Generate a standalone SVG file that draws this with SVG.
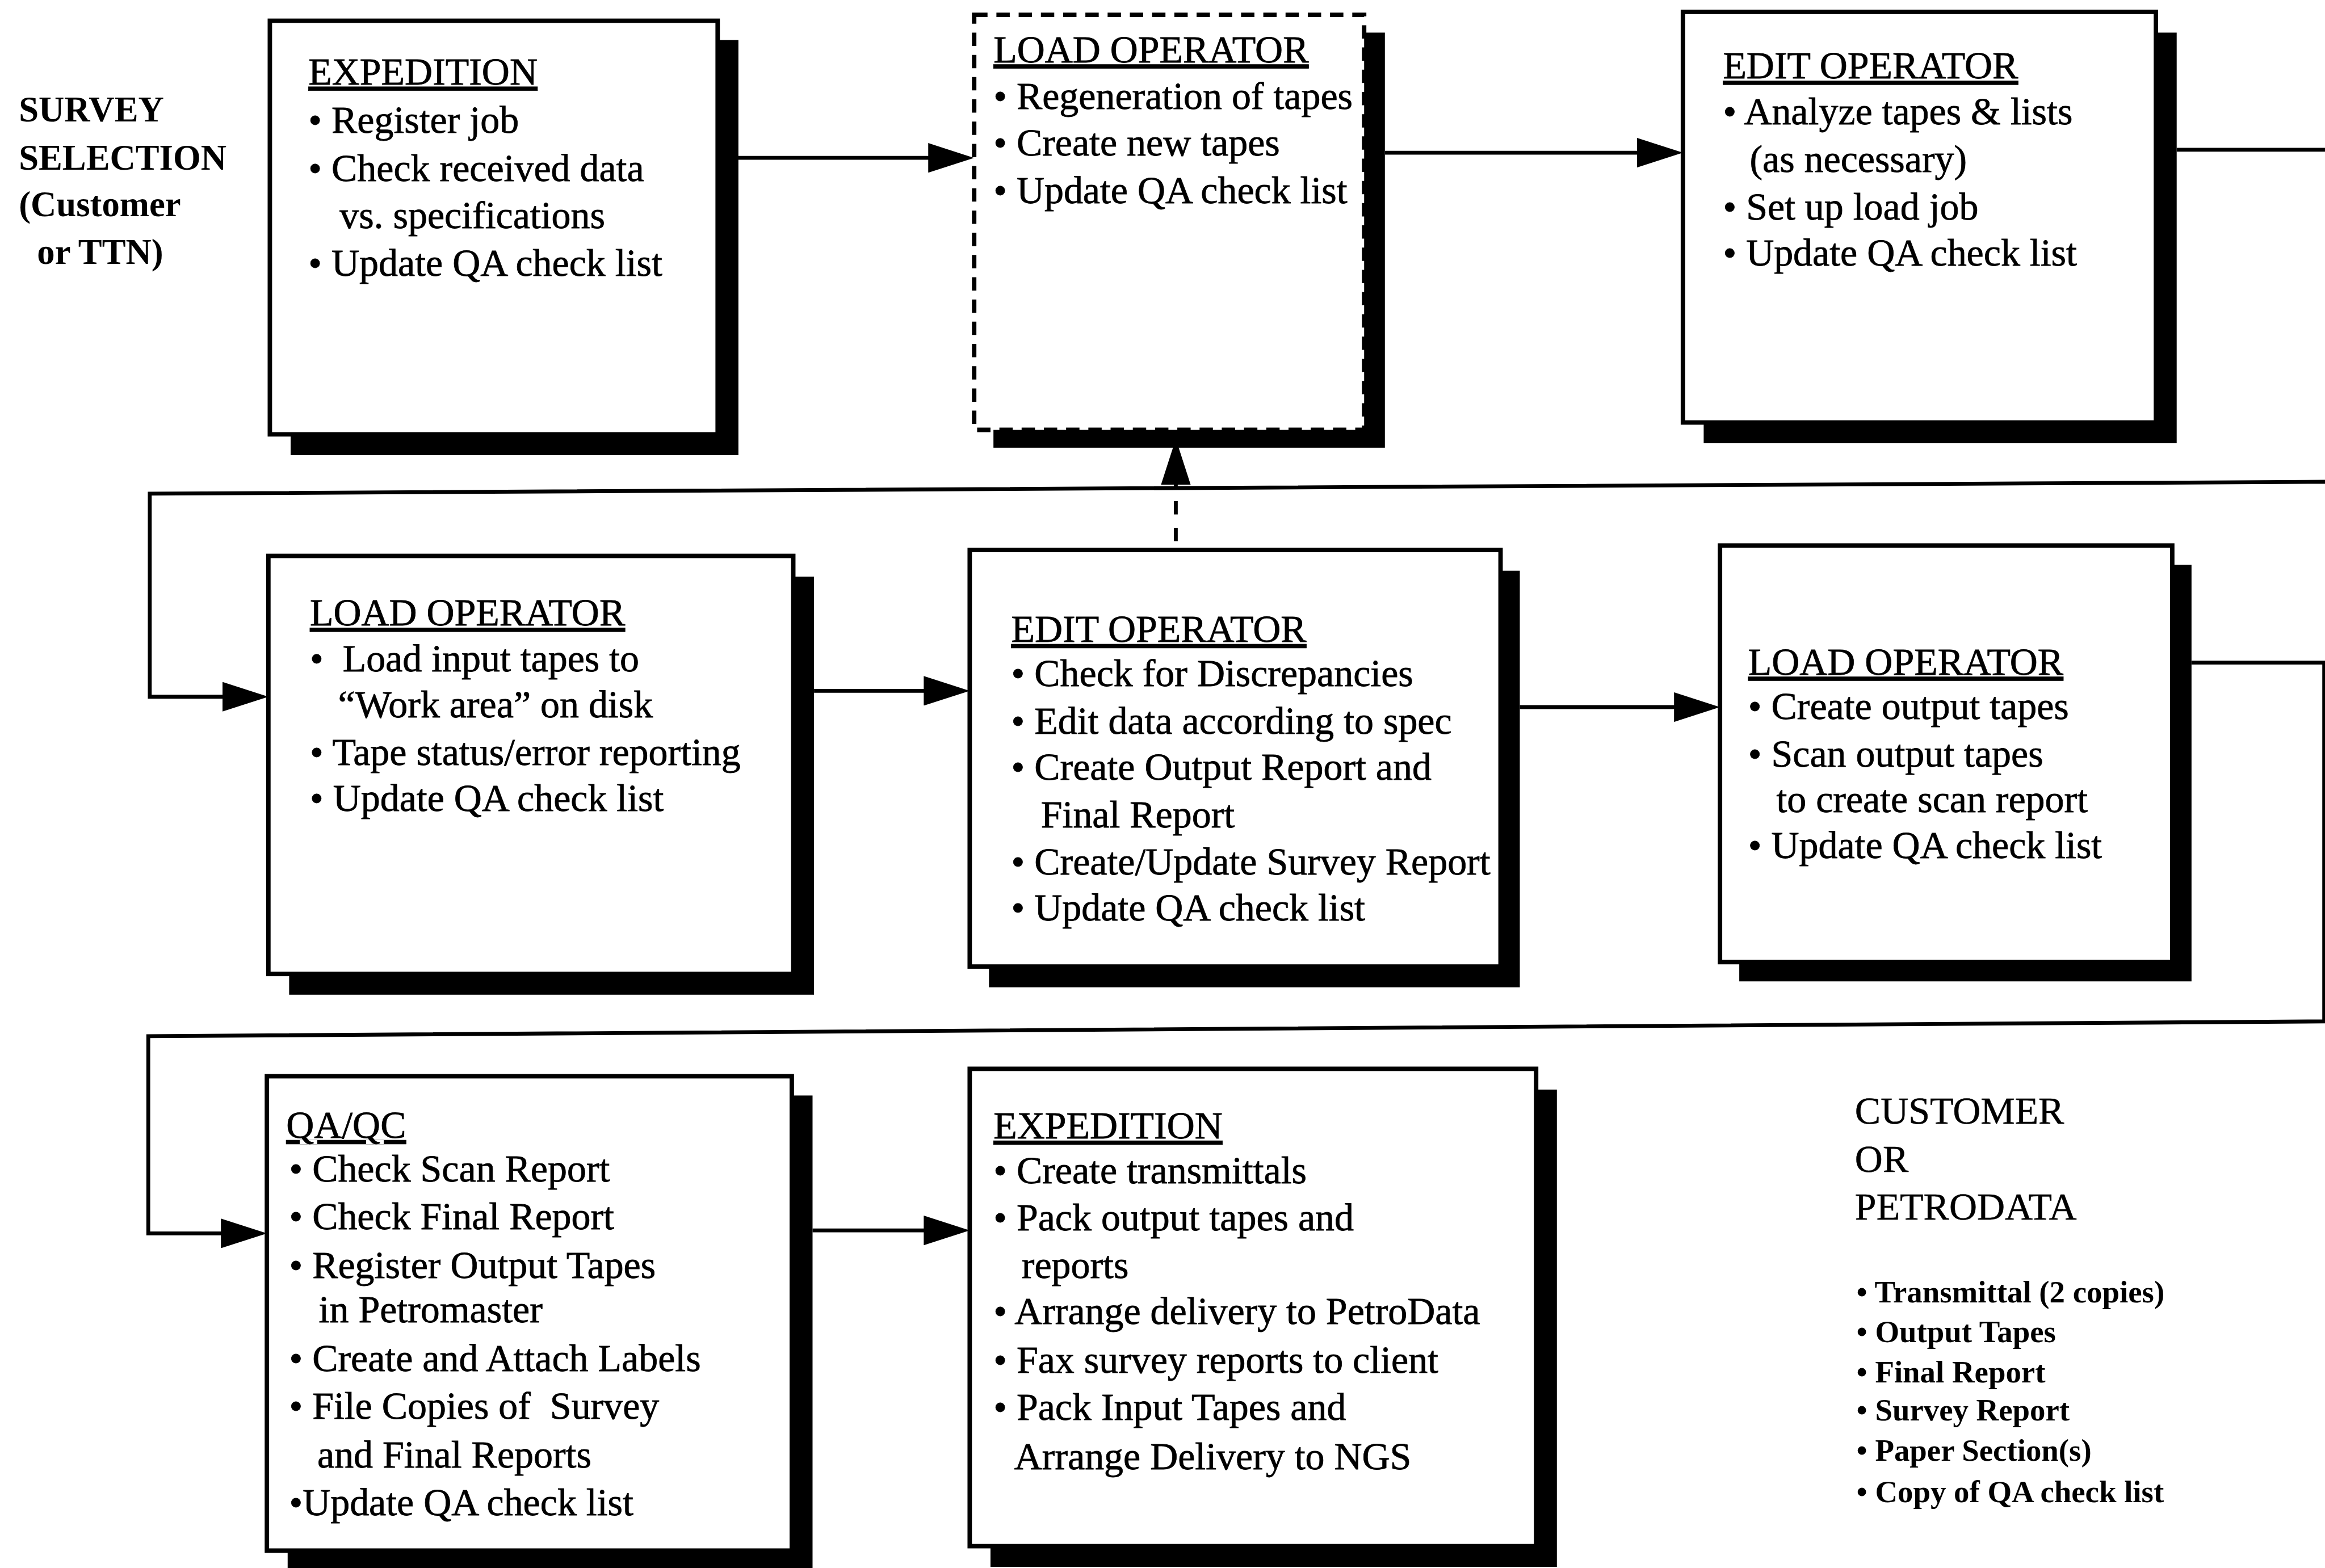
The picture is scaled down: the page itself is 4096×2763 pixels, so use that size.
<svg xmlns="http://www.w3.org/2000/svg" width="4096" height="2763" viewBox="0 0 4096 2763">
  <style>
    .bg { fill: #ffffff; }
    .shadow { fill: #000000; }
    .box { fill: #ffffff; stroke: #000000; stroke-width: 3; }
    .dashed { stroke-dasharray: 9 6; }
    .t { font-family: "Liberation Serif", "Times New Roman", serif; font-size: 26px; fill: #000000; stroke: #000000; stroke-width: 0.3; }
    .h { text-decoration: underline; }
    .side { font-family: "Liberation Serif", "Times New Roman", serif; font-size: 24px; font-weight: bold; fill: #000000; }
    .dest { font-family: "Liberation Serif", "Times New Roman", serif; font-size: 26px; fill: #000000; stroke: #000000; stroke-width: 0.2; }
    .items { font-family: "Liberation Serif", "Times New Roman", serif; font-size: 21px; font-weight: bold; fill: #000000; }
    .wire { fill: none; stroke: #000000; stroke-width: 2.6; marker-end: url(#arrow); }
    .wire-dash { stroke-dasharray: 9 9; stroke-dashoffset: 12; }
  </style>
  <defs>
    <marker id="arrow" markerUnits="userSpaceOnUse" viewBox="0 0 31 20" markerWidth="31" markerHeight="20" refX="25" refY="10" orient="auto">
      <path d="M0,0 L31,10 L0,20 Z" fill="#000000"/>
    </marker>
  </defs>

  <rect class="bg" x="0" y="0" width="4096" height="2763"/>

  <!-- drawing laid out on a 1568 x 1058 grid, scaled up to the full sheet -->
  <g transform="scale(2.6122)">

    <!-- source label -->
    <g id="survey-selection">
      <text class="side" x="12.7" y="82">SURVEY</text>
      <text class="side" x="12.7" y="114.5">SELECTION</text>
      <text class="side" x="12.7" y="146">(Customer</text>
      <text class="side" x="25" y="178">or TTN)</text>
    </g>

    <!-- row 1 -->
    <g id="expedition-register">
      <rect class="shadow" x="196" y="27" width="302" height="280"/>
      <rect class="box" x="182" y="14" width="302" height="279"/>
      <text class="t h" x="208" y="57">EXPEDITION</text>
      <text class="t" x="208" y="89.5">• Register job</text>
      <text class="t" x="208" y="122">• Check received data</text>
      <text class="t" x="229" y="154">vs. specifications</text>
      <text class="t" x="208" y="186">• Update QA check list</text>
    </g>

    <g id="load-operator-regenerate">
      <rect class="shadow" x="670" y="22" width="264" height="280"/>
      <rect class="box dashed" x="657" y="10" width="263" height="280"/>
      <text class="t h" x="670" y="42">LOAD OPERATOR</text>
      <text class="t" x="670" y="73.5">• Regeneration of tapes</text>
      <text class="t" x="670" y="105">• Create new tapes</text>
      <text class="t" x="670" y="137">• Update QA check list</text>
    </g>

    <g id="edit-operator-setup">
      <rect class="shadow" x="1149" y="22" width="319" height="277"/>
      <rect class="box" x="1135" y="8" width="319" height="277"/>
      <text class="t h" x="1162" y="53">EDIT OPERATOR</text>
      <text class="t" x="1162" y="84">• Analyze tapes &amp; lists</text>
      <text class="t" x="1180" y="116">(as necessary)</text>
      <text class="t" x="1162" y="148">• Set up load job</text>
      <text class="t" x="1162" y="179">• Update QA check list</text>
    </g>

    <!-- row 2 -->
    <g id="load-operator-input">
      <rect class="shadow" x="195" y="389" width="354" height="282"/>
      <rect class="box" x="181" y="375" width="354" height="282"/>
      <text class="t h" x="209" y="422">LOAD OPERATOR</text>
      <text class="t" x="209" y="453">•&#160; Load input tapes to</text>
      <text class="t" x="228" y="484">“Work area” on disk</text>
      <text class="t" x="209" y="516">• Tape status/error reporting</text>
      <text class="t" x="209" y="547">• Update QA check list</text>
    </g>

    <g id="edit-operator-check">
      <rect class="shadow" x="667" y="385" width="358" height="281"/>
      <rect class="box" x="654" y="371" width="358" height="281"/>
      <text class="t h" x="682" y="433">EDIT OPERATOR</text>
      <text class="t" x="682" y="463">• Check for Discrepancies</text>
      <text class="t" x="682" y="495">• Edit data according to spec</text>
      <text class="t" x="682" y="526">• Create Output Report and</text>
      <text class="t" x="702" y="558">Final Report</text>
      <text class="t" x="682" y="590">• Create/Update Survey Report</text>
      <text class="t" x="682" y="621">• Update QA check list</text>
    </g>

    <g id="load-operator-output">
      <rect class="shadow" x="1173" y="381" width="305" height="281"/>
      <rect class="box" x="1160" y="368" width="305" height="281"/>
      <text class="t h" x="1179" y="455">LOAD OPERATOR</text>
      <text class="t" x="1179" y="485">• Create output tapes</text>
      <text class="t" x="1179" y="517">• Scan output tapes</text>
      <text class="t" x="1198" y="548">to create scan report</text>
      <text class="t" x="1179" y="579">• Update QA check list</text>
    </g>

    <!-- row 3 -->
    <g id="qa-qc">
      <rect class="shadow" x="194" y="739" width="354" height="320"/>
      <rect class="box" x="180" y="726" width="354" height="320"/>
      <text class="t h" x="193" y="767.6">QA/QC</text>
      <text class="t" x="195" y="797">• Check Scan Report</text>
      <text class="t" x="195" y="829">• Check Final Report</text>
      <text class="t" x="195" y="862">• Register Output Tapes</text>
      <text class="t" x="215" y="892">in Petromaster</text>
      <text class="t" x="195" y="925">• Create and Attach Labels</text>
      <text class="t" x="195" y="957">• File Copies of&#160; Survey</text>
      <text class="t" x="214" y="990">and Final Reports</text>
      <text class="t" x="195" y="1022">•Update QA check list</text>
    </g>

    <g id="expedition-delivery">
      <rect class="shadow" x="668" y="735" width="382" height="322"/>
      <rect class="box" x="654" y="721" width="382" height="322"/>
      <text class="t h" x="670" y="768">EXPEDITION</text>
      <text class="t" x="670" y="798">• Create transmittals</text>
      <text class="t" x="670" y="830">• Pack output tapes and</text>
      <text class="t" x="689" y="862">reports</text>
      <text class="t" x="670" y="893">• Arrange delivery to PetroData</text>
      <text class="t" x="670" y="926">• Fax survey reports to client</text>
      <text class="t" x="670" y="958">• Pack Input Tapes and</text>
      <text class="t" x="684" y="991">Arrange Delivery to NGS</text>
    </g>

    <!-- destination and deliverables -->
    <g id="customer-or-petrodata">
      <text class="dest" x="1251" y="758">CUSTOMER</text>
      <text class="dest" x="1251" y="790.6">OR</text>
      <text class="dest" x="1251" y="822.5">PETRODATA</text>
      <text class="items" x="1252" y="878.6">• Transmittal (2 copies)</text>
      <text class="items" x="1252" y="905.5">• Output Tapes</text>
      <text class="items" x="1252" y="932.5">• Final Report</text>
      <text class="items" x="1252" y="958.3">• Survey Report</text>
      <text class="items" x="1252" y="985.3">• Paper Section(s)</text>
      <text class="items" x="1252" y="1013.5">• Copy of QA check list</text>
    </g>

    <!-- connectors; the return runs drop down just past the right edge -->
    <g id="connectors">
      <path class="wire" d="M497,106.5 H651"/>
      <path class="wire" d="M934,103 H1129"/>
      <path class="wire" d="M1468,101 H1570 V325 L101,333 V470 H175"/>
      <path class="wire" d="M549,466 H648"/>
      <path class="wire" d="M1025,477 H1154"/>
      <path class="wire" d="M1478,447 H1567.5 V689 L100,699 V832 H174"/>
      <path class="wire" d="M548,830 H648"/>
      <path class="wire wire-dash" d="M793,371 V302"/>
    </g>
  </g>
</svg>
